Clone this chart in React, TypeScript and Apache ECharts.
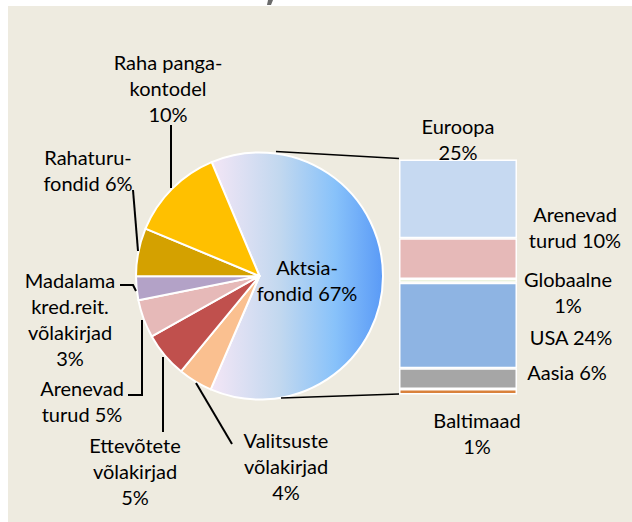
import React, { useEffect, useRef } from 'react';
import * as echarts from 'echarts';

// Pie slices, clockwise from the top of the big "other" slice
const pieNames = [
  'Aktsiafondid',
  'Valitsuste võlakirjad',
  'Ettevõtete võlakirjad',
  'Arenevad turud',
  'Madalama kred.reit. võlakirjad',
  'Rahaturufondid',
  'Raha pangakontodel',
];
const pieValues = [62.8, 4.5, 5.9, 5.0, 3.1, 6.3, 12.4];
const pieLabels = [
  'Aktsia-\nfondid 67%',
  'Valitsuste\nvõlakirjad\n4%',
  'Ettevõtete\nvõlakirjad\n5%',
  'Arenevad\nturud 5%',
  'Madalama\nkred.reit.\nvõlakirjad\n3%',
  'Rahaturu-\nfondid 6%',
  'Raha panga-\nkontodel\n10%',
];

// Secondary bar segments, bottom to top
const barNames = ['Baltimaad', 'Aasia', 'USA', 'Globaalne', 'Arenevad turud', 'Euroopa'];
const barValues = [1.5, 5.5, 22.9, 1.0, 10.9, 21.1];
const barLabels = ['Baltimaad\n1%', 'Aasia 6%', 'USA 24%', 'Globaalne\n1%', 'Arenevad\nturud 10%', 'Euroopa\n25%'];

// styling / layout (kept apart from data)
const pieColors = ['#8fc3f5', '#FAC090', '#C0504D', '#E6B9B8', '#B3A2C7', '#D4A100', '#FFC000'];
const barColors = ['#D9813B', '#A6A6A6', '#8EB4E3', '#D7E4BD', '#E6B9B8', '#C6D9F1'];
const pieLabelPos: [number, number][] = [
  [307, 280], [286, 466], [135, 471], [82, 401], [70, 319], [88, 170], [168, 88],
];
const barLabelPos: [number, number][] = [
  [477, 433], [567, 372], [571, 337], [568, 292], [575, 227], [458, 139],
];

const FONT_FAMILY = 'Lato, "Noto Sans", sans-serif';
const FONT_SIZE = 20;
const LINE_H = 26;

export default function App() {
  const ref = useRef<HTMLDivElement>(null);
  useEffect(() => {
    if (!ref.current) return;
    const chart = echarts.init(ref.current, null, { renderer: 'svg' });
    const barTotal = barValues.reduce((a, b) => a + b, 0);

    const aktsiaGrad = new echarts.graphic.LinearGradient(0, 0, 1, 0, [
      { offset: 0, color: '#F4E6F6' },
      { offset: 0.4, color: '#C2D8EF' },
      { offset: 0.72, color: '#88C2FA' },
      { offset: 1, color: '#5A9AF6' },
    ]);

    const textEl = (txt: string, pos: [number, number]) => ({
      type: 'text',
      x: pos[0],
      y: pos[1],
      silent: true,
      z: 100,
      style: {
        text: txt,
        fill: '#000',
        fontFamily: FONT_FAMILY,
        fontSize: FONT_SIZE,
        lineHeight: LINE_H,
        align: 'center',
        verticalAlign: 'middle',
        textAlign: 'center',
        textVerticalAlign: 'middle',
      },
    });

    const leader = (pts: number[][], w = 2) => ({
      type: 'polyline',
      silent: true,
      z: 50,
      shape: { points: pts },
      style: { stroke: '#000', lineWidth: w, fill: 'none' },
    });

    const graphics: any[] = [
      {
        type: 'rect',
        z: -10,
        silent: true,
        shape: { x: 8, y: 6, width: 624, height: 516 },
        style: { fill: '#EEEBE0' },
      },
      {
        type: 'polygon',
        silent: true,
        shape: { points: [[268, 0], [273, 0], [271, 5], [267, 5]] },
        style: { fill: '#6b6b6b' },
      },
      // pie-to-bar connectors
      leader([[276, 151.5], [399, 158.5]], 1.5),
      leader([[281, 398], [399, 394]], 1.5),
      // label leader lines
      leader([[171, 125], [171, 188]]),
      leader([[133, 190], [138, 251]]),
      leader([[120, 285], [133, 285], [136, 291]]),
      leader([[128, 395], [142, 395], [142, 320]]),
      leader([[163, 357], [163, 432]]),
      leader([[196, 383], [232, 444]]),
    ];
    pieLabels.forEach((t, i) => graphics.push(textEl(t, pieLabelPos[i])));
    barLabels.forEach((t, i) => graphics.push(textEl(t, barLabelPos[i])));

    chart.setOption({
      animation: false,
      backgroundColor: 'transparent',
      grid: { left: 399, top: 159.5, width: 118, height: 235, containLabel: false },
      xAxis: { type: 'category', data: ['Aktsiafondid'], show: false, boundaryGap: true },
      yAxis: { type: 'value', min: 0, max: barTotal, show: false },
      series: [
        {
          type: 'pie',
          center: [259.5, 276],
          radius: 123.5,
          startAngle: 112.8,
          clockwise: true,
          silent: true,
          label: { show: false },
          labelLine: { show: false },
          itemStyle: { borderColor: '#fff', borderWidth: 2 },
          data: pieNames.map((n, i) => ({
            name: n,
            value: pieValues[i],
            itemStyle: { color: i === 0 ? aktsiaGrad : pieColors[i] },
          })),
        },
        ...barNames.map((n, i) => ({
          type: 'bar',
          name: n,
          stack: 'other',
          barWidth: '100%',
          silent: true,
          itemStyle: { color: barColors[i], borderColor: '#fff', borderWidth: 1.5 },
          data: [barValues[i]],
        })),
      ],
      graphic: { elements: graphics },
    });
    return () => chart.dispose();
  }, []);
  return (
    <div
      ref={ref}
      style={{ position: 'fixed', left: 0, top: 0, width: 632, height: 522, background: '#fff' }}
    />
  );
}
